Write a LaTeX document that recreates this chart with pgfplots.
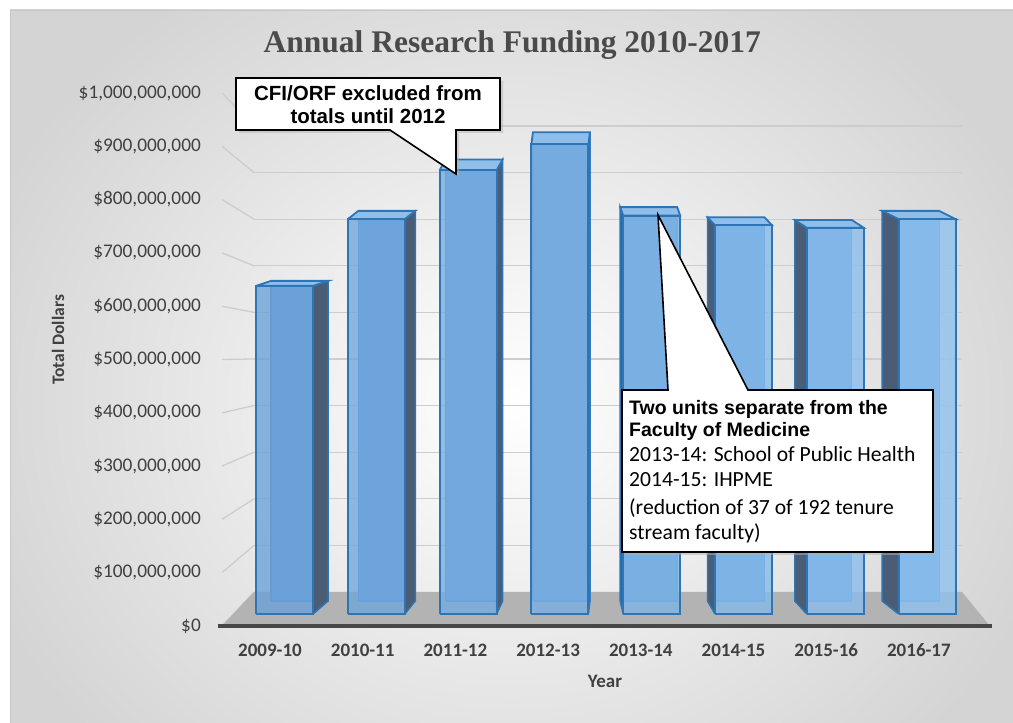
\documentclass[border=0pt]{standalone}
\usepackage{pgfplots}
\pgfplotsset{compat=1.18}
\usepackage{pgfplotstable}
\usepackage{fontspec}
\setmainfont{Carlito}
\newfontfamily\arialfont{Liberation Sans}
\newfontfamily\titlefont{Liberation Serif}

\definecolor{txt}{HTML}{404040}
\definecolor{ttl}{HTML}{4A4A4A}
\definecolor{fbL}{HTML}{6AA1D8}
\definecolor{fbR}{HTML}{8EC2F0}
\definecolor{edge}{HTML}{2E75B6}
\definecolor{innerc}{HTML}{4F8FD3}
\definecolor{side}{HTML}{4A5D75}
\definecolor{topc}{HTML}{8FBEEA}
\definecolor{floorc}{HTML}{B3B3B3}
\definecolor{gridc}{HTML}{CDCDCD}

% Annual research funding, millions of dollars
\pgfplotstableread{
idx year value
0 2009-10 644
1 2010-11 775
2 2011-12 871
3 2012-13 922
4 2013-14 782
5 2014-15 763
6 2015-16 758
7 2016-17 775
}\fundingtable

\pgfplotsset{
  backface/.style={draw=innerc, line width=1.2pt, fill=fbL},
  sideface/.style={draw=edge, line width=1.5pt, fill=side},
  topface/.style={draw=edge, line width=1.8pt, fill=topc},
  frontface/.style={draw=edge, line width=2pt, fill opacity=0.78},
}

\begin{document}
\begin{tikzpicture}[x=1pt,y=1pt]
\useasboundingbox (0,0) rectangle (1013,723);
\fill[white] (0,0) rectangle (1013,723);
\begin{scope}
\clip (10,0) rectangle (1013,713);
\shade[shading=radial, inner color=white, outer color=black!17] (-60,-180) rectangle (1080,820);
\end{scope}
\draw[black!22, line width=0.8pt] (10,-1) -- (10,713) -- (1014,713);
% walls
\foreach \k in {1,...,10} \draw[gridc, line width=1.3pt] (254,{131+46.6*\k}) -- (962,{131+46.6*\k});
\foreach \k in {0,...,10} \draw[gridc, line width=1.3pt] (222,{97+53.3*\k}) -- (254,{131+46.6*\k});
% floor
\fill[floorc] (222,97) -- (990,97) -- (962,131) -- (254,131) -- cycle;
\draw[line width=3.5pt, color=black!72] (218,97) -- (992,97);

\begin{axis}[
  at={(222pt,97pt)}, anchor=south west,
  x=1pt, y=0.533pt,
  xmin=222, xmax=990, ymin=0, ymax=1000,
  clip=false,
  axis line style={draw=none},
  tick style={draw=none},
  major tick length=0pt,
  ytick={0,100,...,1000},
  yticklabels={\$0,{\$100,000,000},{\$200,000,000},{\$300,000,000},{\$400,000,000},{\$500,000,000},{\$600,000,000},{\$700,000,000},{\$800,000,000},{\$900,000,000},{\$1,000,000,000}},
  xtick={270,362.7,455.4,548.1,640.8,733.5,826.2,918.9},
  xticklabels={2009-10,2010-11,2011-12,2012-13,2013-14,2014-15,2015-16,2016-17},
  x tick label style={font=\bfseries\fontsize{19}{22}\selectfont, text=txt, anchor=base, yshift=-31pt},
  y tick label style={font=\fontsize{19.3}{22}\selectfont, text=txt, anchor=east, inner sep=0pt, xshift=-21pt},
  xlabel={Year},
  xlabel style={at={(axis description cs:0.4987,-0.1163)}, anchor=base, font=\bfseries\fontsize{19}{22}\selectfont, text=txt},
  ylabel={Total Dollars},
  ylabel style={at={(axis description cs:-0.2135,0.5366)}, anchor=center, font=\bfseries\fontsize{17.5}{20}\selectfont, text=txt},
  title={Annual Research Funding 2010-2017},
  title style={at={(axis description cs:0.378,1.064)}, anchor=base, font=\titlefont\bfseries\fontsize{31.5}{35}\selectfont, text=ttl},
]
\pgfplotsforeachungrouped \i in {0,...,7}{%
  \pgfplotstablegetelem{\i}{value}\of\fundingtable
  \pgfmathsetmacro\v{\pgfplotsretval}
  \pgfmathsetmacro\xl{256+91.8*\i}
  \pgfmathsetmacro\xr{\xl+57}
  \pgfmathsetmacro\dx{15-4.5*\i}
  \pgfmathsetmacro\yb{22.5}
  \pgfmathsetmacro\ybb{46.9}
  \pgfmathsetmacro\T{22.5+0.9559*\v}
  \pgfmathsetmacro\Tb{\T+(5+0.025*(\v-644))/0.533}
  \pgfmathsetmacro\xlb{\xl+\dx}
  \pgfmathsetmacro\xrb{\xr+\dx}
  \pgfmathsetmacro\xs{\dx>0 ? \xr : \xl}
  \pgfmathsetmacro\xsb{\xs+\dx}
  \pgfmathtruncatemacro\pct{100-100*\i/7}
  \edef\doplots{%
    \noexpand\addplot[backface] coordinates {(\xlb,\ybb) (\xrb,\ybb) (\xrb,\Tb) (\xlb,\Tb) (\xlb,\ybb)};
    \noexpand\addplot[sideface] coordinates {(\xs,\yb) (\xs,\T) (\xsb,\Tb) (\xsb,\ybb) (\xs,\yb)};
    \noexpand\addplot[topface] coordinates {(\xl,\T) (\xr,\T) (\xrb,\Tb) (\xlb,\Tb) (\xl,\T)};
    \noexpand\addplot[frontface, fill={fbL!\pct!fbR}] coordinates {(\xl,\yb) (\xr,\yb) (\xr,\T) (\xl,\T) (\xl,\yb)};
  }%
  \doplots
}
\end{axis}

% callout 1
\fill[black!30, opacity=0.5] (239,642) -- (503,642) -- (503,590) -- (459,590) -- (459,546) -- (393,590) -- (239,590) -- cycle;
\filldraw[fill=white, draw=black, line width=1.6pt] (236,645) -- (500,645) -- (500,593) -- (456,593) -- (456,549) -- (390,593) -- (236,593) -- cycle;
\node[align=center, font=\arialfont\bfseries\fontsize{20.5}{23}\selectfont] at (368,618) {CFI/ORF excluded from\\totals until 2012};

% callout 2
\fill[black!30, opacity=0.5] (625,330) -- (936,330) -- (936,168) -- (625,168) -- cycle;
\filldraw[fill=white, draw=black, line width=1.6pt] (622,333) -- (668,333) -- (658,508) -- (748,333) -- (933,333) -- (933,171) -- (622,171) -- cycle;
\node[anchor=base west, font=\arialfont\bfseries\fontsize{19.5}{22}\selectfont, inner sep=0pt] at (629,308) {Two units separate from the};
\node[anchor=base west, font=\arialfont\bfseries\fontsize{19.5}{22}\selectfont, inner sep=0pt] at (629,286) {Faculty of Medicine};
\node[anchor=base west, font=\fontsize{21.6}{24}\selectfont, inner sep=0pt] at (629,261) {2013-14: School of Public Health};
\node[anchor=base west, font=\fontsize{21.6}{24}\selectfont, inner sep=0pt] at (629,236) {2014-15: IHPME};
\node[anchor=base west, font=\fontsize{21.6}{24}\selectfont, inner sep=0pt] at (629,208) {(reduction of 37 of 192 tenure};
\node[anchor=base west, font=\fontsize{21.6}{24}\selectfont, inner sep=0pt] at (629,183) {stream faculty)};
\end{tikzpicture}
\end{document}
